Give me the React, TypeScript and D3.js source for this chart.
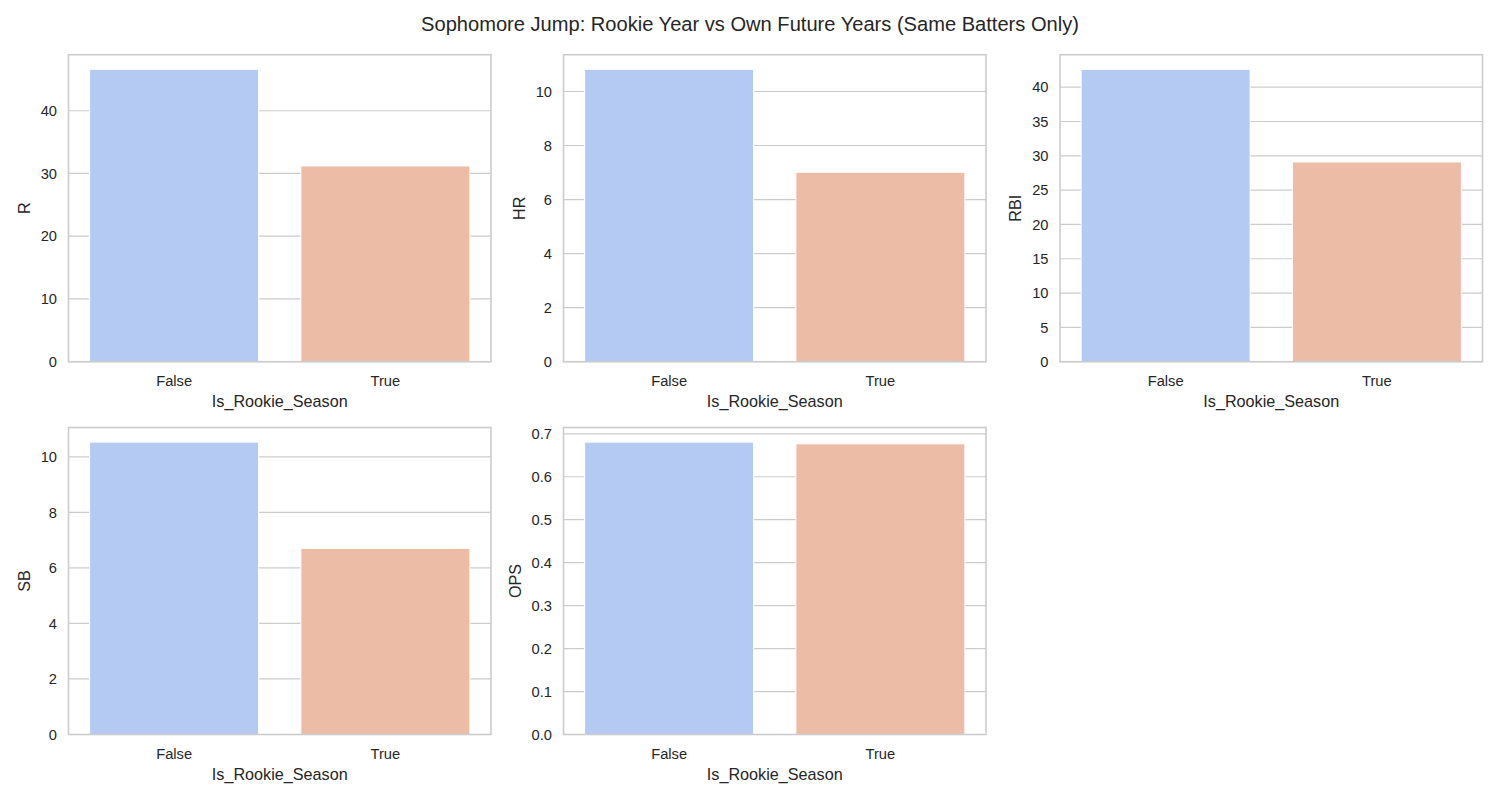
import React, { useEffect, useRef } from 'react';
import * as d3 from 'd3';

// Mean per group
const categories = ['False', 'True'];
const metrics = ['R', 'HR', 'RBI', 'SB', 'OPS'];
const rValues = [46.6, 31.2];
const hrValues = [10.82, 7.01];
const rbiValues = [42.6, 29.1];
const sbValues = [10.53, 6.7];
const opsValues = [0.6806, 0.6765];

const rTicks = [0, 10, 20, 30, 40];
const hrTicks = [0, 2, 4, 6, 8, 10];
const rbiTicks = [0, 5, 10, 15, 20, 25, 30, 35, 40];
const sbTicks = [0, 2, 4, 6, 8, 10];
const opsTicks = [0, 0.1, 0.2, 0.3, 0.4, 0.5, 0.6, 0.7];

const TITLE = 'Sophomore Jump: Rookie Year vs Own Future Years (Same Batters Only)';
const X_LABEL = 'Is_Rookie_Season';

const WIDTH = 1500;
const HEIGHT = 800;
const FONT = '"Liberation Sans", Arial, sans-serif';
const TEXT = '#262626';
const GRID = '#cccccc';
const barColors = ['#b4caf3', '#ecbca7'];

const App: React.FC = () => {
  const svgRef = useRef<SVGSVGElement>(null);

  useEffect(() => {
    if (!svgRef.current) return;
    document.body.style.margin = '0';

    const svg = d3.select(svgRef.current);
    svg.selectAll('*').remove();

    const panels = [
      { name: metrics[0], values: rValues, ticks: rTicks, fmt: d3.format('d') },
      { name: metrics[1], values: hrValues, ticks: hrTicks, fmt: d3.format('d') },
      { name: metrics[2], values: rbiValues, ticks: rbiTicks, fmt: d3.format('d') },
      { name: metrics[3], values: sbValues, ticks: sbTicks, fmt: d3.format('d') },
      { name: metrics[4], values: opsValues, ticks: opsTicks, fmt: d3.format('.1f') },
    ];

    const colLeft = [68.5, 563.5, 1060];
    const rowTop = [54.7, 427.5];
    const w = 422.5;
    const h = 307;

    svg.append('text')
      .attr('x', WIDTH / 2)
      .attr('y', 31)
      .attr('text-anchor', 'middle')
      .attr('font-family', FONT)
      .attr('font-size', 20.1)
      .attr('fill', TEXT)
      .text(TITLE);

    panels.forEach((p, i) => {
      const left = colLeft[i % 3];
      const top = rowTop[Math.floor(i / 3)];
      const g = svg.append('g').attr('transform', `translate(${left},${top})`);

      const x = d3.scaleBand<string>()
        .domain(categories)
        .range([0, w])
        .paddingInner(0.2)
        .paddingOuter(0.1);

      const y = d3.scaleLinear()
        .domain([0, (d3.max(p.values) || 0) * 1.05])
        .range([h, 0]);

      // grid below bars
      g.selectAll('line.grid')
        .data(p.ticks)
        .enter()
        .append('line')
        .attr('class', 'grid')
        .attr('x1', 0)
        .attr('x2', w)
        .attr('y1', d => y(d))
        .attr('y2', d => y(d))
        .attr('stroke', GRID)
        .attr('stroke-width', 1.2);

      g.selectAll('rect.bar')
        .data(p.values)
        .enter()
        .append('rect')
        .attr('class', 'bar')
        .attr('x', (_, j) => x(categories[j]) || 0)
        .attr('width', x.bandwidth())
        .attr('y', d => y(d))
        .attr('height', d => h - y(d))
        .attr('fill', (_, j) => barColors[j])
        .attr('stroke', 'white')
        .attr('stroke-width', 1);

      // spines
      g.append('rect')
        .attr('x', 0)
        .attr('y', 0)
        .attr('width', w)
        .attr('height', h)
        .attr('fill', 'none')
        .attr('stroke', GRID)
        .attr('stroke-width', 1.6);

      // y tick labels
      g.selectAll('text.ytick')
        .data(p.ticks)
        .enter()
        .append('text')
        .attr('class', 'ytick')
        .attr('x', -11.5)
        .attr('y', d => y(d))
        .attr('dy', '0.35em')
        .attr('text-anchor', 'end')
        .attr('font-family', FONT)
        .attr('font-size', 14.7)
        .attr('fill', TEXT)
        .text(d => p.fmt(d));

      // x tick labels
      g.selectAll('text.xtick')
        .data(categories)
        .enter()
        .append('text')
        .attr('class', 'xtick')
        .attr('x', d => (x(d) || 0) + x.bandwidth() / 2)
        .attr('y', h + 24.5)
        .attr('text-anchor', 'middle')
        .attr('font-family', FONT)
        .attr('font-size', 14.7)
        .attr('fill', TEXT)
        .text(d => d);

      g.append('text')
        .attr('x', w / 2)
        .attr('y', h + 45.8)
        .attr('text-anchor', 'middle')
        .attr('font-family', FONT)
        .attr('font-size', 16.2)
        .attr('fill', TEXT)
        .text(X_LABEL);

      // y label sits left of the widest tick label
      let maxTick = 0;
      g.selectAll<SVGTextElement, number>('text.ytick').each(function () {
        maxTick = Math.max(maxTick, this.getComputedTextLength());
      });
      const lx = -11.5 - maxTick - 11;
      g.append('text')
        .attr('transform', `translate(${lx},${h / 2}) rotate(-90)`)
        .attr('text-anchor', 'middle')
        .attr('font-family', FONT)
        .attr('font-size', 16.2)
        .attr('fill', TEXT)
        .text(p.name);
    });
  }, []);

  return (
    <svg ref={svgRef} width={WIDTH} height={HEIGHT} style={{ display: 'block', background: 'white' }} />
  );
};

export default App;
